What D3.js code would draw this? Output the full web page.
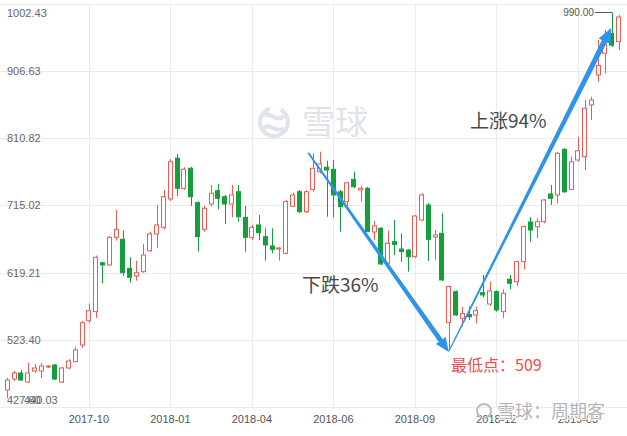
<!DOCTYPE html>
<html><head><meta charset="utf-8">
<script src="https://cdn.jsdelivr.net/npm/d3@7"></script>
<style>body{margin:0;background:#fff}svg{display:block}</style>
</head><body>
<script>
// weekly OHLC values
const open  = [451.8,467.5,476.1,463.2,478.9,478.9,484.6,487.5,463.2,483.2,492.2,516.0,550.6,563.5,633.3,630.1,669.5,666.7,625.3,614.4,620.5,650.4,674.2,683.8,724.2,782.2,739.4,768.0,718.9,680.9,717.0,736.0,727.4,717.0,734.5,698.0,669.5,687.1,670.4,657.1,652.9,646.7,713.7,734.5,706.1,737.8,763.0,769.4,766.5,734.5,720.3,752.1,737.0,739.4,677.1,682.4,632.5,663.3,652.9,651.4,641.9,694.2,715.6,670.0,675.2,547.8,592.0,554.1,559.5,558.8,590.6,574.4,592.0,563.5,609.7,606.2,634.8,691.4,684.7,691.8,731.3,729.9,795.0,737.8,779.8,784.4,858.2,901.0,931.9,960.2,948.4];
const high  = [468.9,478.9,480.4,490.8,488.9,490.3,486.8,488.9,484.6,496.0,513.6,550.2,575.4,643.6,634.3,671.4,708.5,679.0,641.0,636.2,660.0,677.5,715.6,737.0,780.7,788.3,769.3,769.8,720.9,714.2,744.1,745.5,729.9,744.1,744.1,714.2,687.1,701.3,682.4,682.4,655.7,722.7,732.7,737.0,737.0,789.2,791.6,778.8,779.8,737.0,748.8,763.1,742.7,741.3,692.8,684.2,679.0,694.2,675.2,652.9,701.3,732.3,718.4,680.0,703.8,600.8,593.7,570.2,570.6,570.6,615.8,606.2,593.7,595.4,615.8,636.5,686.4,698.5,696.6,724.2,744.1,791.2,796.4,784.4,813.0,865.3,870.0,950.8,965.1,990.0,986.5];
const low   = [440.03,464.7,464.7,461.8,476.1,469.0,483.2,466.1,461.8,481.8,491.8,511.7,546.9,554.5,604.0,628.6,664.7,614.4,604.8,607.7,619.1,649.0,653.9,680.9,721.3,728.4,737.0,714.2,649.0,677.5,713.7,709.5,688.5,698.0,691.8,649.0,665.7,665.7,636.2,646.7,636.2,645.7,713.3,703.8,704.2,734.5,760.7,698.9,698.0,677.5,713.2,739.4,720.3,677.1,665.7,630.1,627.6,644.3,634.3,620.5,640.0,692.8,635.8,637.2,607.2,509.0,557.3,542.1,551.6,546.9,584.4,571.6,563.5,554.1,595.4,600.1,623.9,663.3,668.1,689.5,715.6,717.9,732.7,737.0,777.3,765.5,836.8,891.4,903.4,940.9,936.6];
const close = [466.1,476.1,466.1,476.1,483.2,486.1,486.1,467.5,483.2,493.2,508.9,547.8,564.9,641.0,630.1,669.5,680.9,619.1,612.5,619.1,644.3,674.2,687.1,727.4,777.3,739.4,766.5,727.4,670.5,710.9,732.3,725.1,717.0,729.9,698.9,669.5,683.8,676.1,658.6,652.4,654.3,720.3,729.9,706.1,734.5,767.9,774.0,765.5,729.9,713.2,747.3,741.7,739.4,677.5,685.7,631.5,661.0,659.3,649.3,641.9,699.9,729.9,666.7,672.8,608.7,599.4,558.8,560.9,556.3,565.0,587.4,593.0,565.9,589.7,604.0,634.8,684.7,680.0,691.8,722.7,725.1,789.3,734.5,777.3,793.0,853.5,865.3,914.5,945.1,943.4,983.6];
const yTicks = [427.60,523.40,619.21,715.02,810.82,906.63,1002.43];
const xTickIndex = [12,24,36,48,60,72,84];
const xTickLabels = ["2017-10","2018-01","2018-04","2018-06","2018-09","2018-12","2019-03"];
const minLabel = "440.03", maxLabel = "990.00";
const lowValue = 509.0;
const downText = "下跌36%", upText = "上涨94%", lowText = "最低点：509";

const W = 627, H = 436;
const RED = "#ec5b52", GREEN = "#149f3c", BLUE = "#2e93ea";
const svg = d3.select("body").append("svg").attr("width", W).attr("height", H);
svg.append("rect").attr("width", W).attr("height", H).attr("fill", "#fff");

const n = open.length;
const x = d3.scaleBand().domain(d3.range(n)).range([4, 622]).paddingInner(0.25).paddingOuter(0.125);
const y = d3.scaleLinear().domain([427.60, 1002.43]).range([407, 3.8]);
const cx = i => x(i) + x.bandwidth() / 2;
const step = x.step();
const fx = t => 4 + step * (t + 0.5); // fractional index position

// gridlines
svg.append("g").selectAll("line").data(yTicks).join("line")
  .attr("x1", 0).attr("x2", W).attr("y1", d => Math.round(y(d)) + 0.5).attr("y2", d => Math.round(y(d)) + 0.5)
  .attr("stroke", "#ebebeb");
svg.append("g").selectAll("line").data(xTickIndex).join("line")
  .attr("x1", d => Math.round(cx(d)) + 0.5).attr("x2", d => Math.round(cx(d)) + 0.5)
  .attr("y1", y(1002.43)).attr("y2", y(427.60)).attr("stroke", "#ebebeb");

// central watermark
const wm = svg.append("g").attr("fill", "none").attr("stroke", "#dfe3ea").attr("stroke-width", 4);
wm.append("path").attr("d", d3.arc()({innerRadius: 14, outerRadius: 14, startAngle: 0.5, endAngle: 2 * Math.PI - 0.3})).attr("transform", "translate(274,122)");
wm.append("path").attr("d", "M264,116 C270,110 276,124 284,116 M264,128 C270,122 276,134 284,128");
svg.append("text").attr("x", 302).attr("y", 134).attr("font-family", "Noto Sans CJK SC").attr("font-size", 33)
  .attr("fill", "#dfe3ea").text("雪球");

// candles
const g = svg.append("g");
const idx = d3.range(n);
const col = i => close[i] >= open[i] ? RED : GREEN;
g.selectAll("line.wick").data(idx).join("line").attr("class", "wick")
  .attr("x1", i => Math.round(cx(i)) + 0.5).attr("x2", i => Math.round(cx(i)) + 0.5)
  .attr("y1", i => y(high[i])).attr("y2", i => y(low[i]))
  .attr("stroke", col).attr("stroke-width", 1);
g.selectAll("rect").data(idx).join("rect")
  .attr("x", i => Math.round(x(i)) + 0.5)
  .attr("width", Math.round(x.bandwidth()) - 1)
  .attr("y", i => y(Math.max(open[i], close[i])))
  .attr("height", i => Math.max(1, Math.abs(y(open[i]) - y(close[i]))))
  .attr("fill", i => close[i] >= open[i] ? "#fff" : GREEN)
  .attr("stroke", col).attr("stroke-width", 1);

// axis labels
const lab = svg.append("g").attr("font-family", "Liberation Sans, Arial, sans-serif").attr("font-size", 11).attr("fill", "#666");
lab.selectAll("text").data(yTicks).join("text")
  .attr("x", 7)
  .attr("y", (d, i) => i === yTicks.length - 1 ? y(d) + 9 : (i === 0 ? y(d) - 7 : y(d)))
  .attr("dominant-baseline", "central").text(d => d.toFixed(2));
lab.append("text").attr("x", 24).attr("y", y(427.60) - 7).attr("dominant-baseline", "central").text(minLabel);
lab.append("g").selectAll("text").data(xTickIndex).join("text")
  .attr("x", d => cx(d)).attr("y", 419).attr("text-anchor", "middle").attr("dominant-baseline", "central")
  .attr("fill", "#555").text((d, i) => xTickLabels[i]);

// max marker
const maxI = d3.maxIndex(high);
svg.append("line").attr("x1", cx(maxI) - 17).attr("x2", cx(maxI)).attr("y1", y(high[maxI])).attr("y2", y(high[maxI]))
  .attr("stroke", "#555");
svg.append("text").attr("x", cx(maxI) - 18).attr("y", y(high[maxI])).attr("text-anchor", "end").attr("dominant-baseline", "central")
  .attr("font-family", "Liberation Sans, Arial, sans-serif").attr("font-size", 10).attr("fill", "#555").text(maxLabel);

// tapered arrows
function arrow(x0, y0, x1, y1, w0, w1, hl, hw) {
  const dx = x1 - x0, dy = y1 - y0, L = Math.hypot(dx, dy);
  const ux = dx / L, uy = dy / L, px = -uy, py = ux;
  const bx = x1 - ux * hl, by = y1 - uy * hl;
  const pts = [
    [x0 + px * w0 / 2, y0 + py * w0 / 2],
    [bx + px * w1 / 2, by + py * w1 / 2],
    [bx + px * hw / 2, by + py * hw / 2],
    [x1, y1],
    [bx - px * hw / 2, by - py * hw / 2],
    [bx - px * w1 / 2, by - py * w1 / 2],
    [x0 - px * w0 / 2, y0 - py * w0 / 2]];
  svg.append("polygon").attr("points", pts.map(p => p.join(",")).join(" ")).attr("fill", BLUE);
}
const lowI = low.indexOf(lowValue);
arrow(fx(44.3), y(790), fx(lowI), y(506), 1.8, 5, 14, 12);
arrow(fx(lowI), y(507), fx(maxI - 0.1), y(968), 1.2, 5.5, 15, 13);

// annotation texts
const ann = svg.append("g").attr("font-family", "Noto Sans CJK SC, sans-serif");
ann.append("text").attr("x", 302).attr("y", 292).attr("font-size", 19).attr("fill", "#484848").text(downText);
ann.append("text").attr("x", 470).attr("y", 128).attr("font-size", 19).attr("fill", "#484848").text(upText);
ann.append("text").attr("x", 451).attr("y", 371).attr("font-size", 16).attr("fill", "#ef4c4c").text(lowText);

// bottom watermark
const bw = svg.append("g");
bw.append("circle").attr("cx", 484).attr("cy", 411).attr("r", 7).attr("fill", "none").attr("stroke", "#bbb").attr("stroke-width", 2);
bw.append("text").attr("x", 497).attr("y", 418).attr("font-family", "Noto Sans CJK SC").attr("font-size", 18)
  .attr("fill", "#b5b5b5").attr("stroke", "#fff").attr("stroke-width", 2).attr("paint-order", "stroke").text("雪球：周期客");
</script>
</body></html>
